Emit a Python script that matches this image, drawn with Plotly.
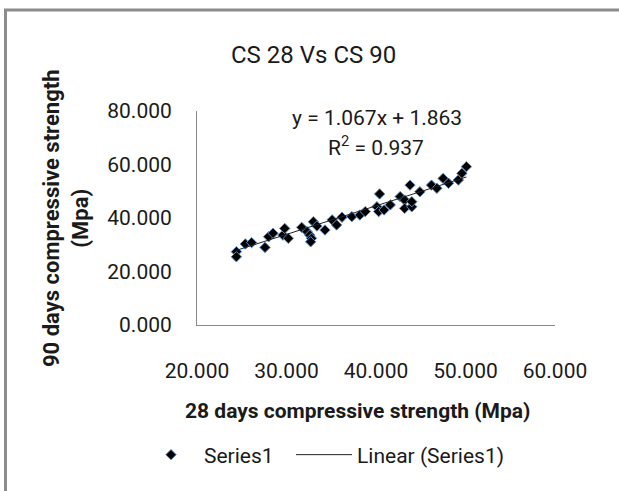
import plotly.graph_objects as go

# ---- data ----
cs28 = [24.4, 24.4, 25.4, 26.1, 27.6, 28.0, 28.5, 29.6, 29.8, 30.2,
        31.7, 32.3, 32.6, 32.8, 32.7, 33.0, 33.4, 34.3, 35.1, 35.6,
        36.2, 37.3, 38.2, 38.8, 40.1, 40.4, 40.3, 40.9, 41.6, 42.7,
        43.2, 43.2, 43.8, 44.0, 44.0, 44.9, 46.2, 46.8, 47.5, 48.1,
        49.2, 49.6, 50.1]
cs90 = [27.4, 25.5, 30.3, 30.8, 29.0, 33.0, 34.3, 33.6, 36.1, 32.4,
        36.5, 34.9, 33.6, 32.4, 31.1, 38.6, 37.0, 35.5, 39.3, 37.4,
        40.3, 40.5, 41.1, 42.4, 44.2, 49.0, 42.4, 43.0, 44.9, 48.0,
        46.7, 43.6, 52.3, 44.2, 46.1, 49.8, 52.3, 51.1, 54.8, 53.0,
        54.2, 56.7, 59.2]
slope, intercept = 1.067, 1.863
r2 = 0.937
x_ticks = [20, 30, 40, 50, 60]
y_ticks = [0, 20, 40, 60, 80]

W, H = 619, 491
L, R, T, B = 197, 64, 111, 166
PW, PH = W - L - R, H - T - B


def px(x):
    return (x - L) / PW


def py(y):
    return (H - B - y) / PH


FONT = "Roboto, Arial, sans-serif"
TXT = "#1a1a1a"

xs_fit = [min(cs28), max(cs28)]
ys_fit = [slope * v + intercept for v in xs_fit]

fig = go.Figure()
fig.add_trace(go.Scatter(
    x=cs28, y=cs90, mode="markers", name="Series1", legendwidth=82,
    marker=dict(symbol="diamond", size=8, color="#000000",
                line=dict(color="#5b8fc9", width=1)),
))
fig.add_trace(go.Scatter(
    x=xs_fit, y=ys_fit, mode="lines", name="Linear (Series1)",
    line=dict(color="#222222", width=1),
))


def note(text, x, y, size, angle=0):
    return dict(text=text, xref="paper", yref="paper", x=px(x), y=py(y),
                xanchor="center", yanchor="middle", showarrow=False,
                textangle=angle, font=dict(size=size, color=TXT))


fig.update_layout(
    width=W, height=H,
    margin=dict(l=L, r=R, t=T, b=B, pad=0),
    paper_bgcolor="white", plot_bgcolor="white",
    font=dict(family=FONT, size=21, color=TXT),
    showlegend=True,
    legend=dict(orientation="h", x=px(138), y=py(455), xanchor="left",
                yanchor="middle", itemwidth=56, font=dict(size=21),
                bgcolor="rgba(0,0,0,0)", tracegroupgap=0),
    xaxis=dict(range=[20, 60], tickvals=x_ticks, tickformat=".3f",
               showgrid=False, zeroline=False, showline=True,
               linecolor="#8a8a8a", linewidth=1, ticks="",
               ticklabelstandoff=27, tickfont=dict(size=21, color=TXT),
               fixedrange=True),
    yaxis=dict(range=[0, 80], tickvals=y_ticks, tickformat=".3f",
               showgrid=False, zeroline=False, showline=True,
               linecolor="#8a8a8a", linewidth=1, ticks="",
               ticklabelstandoff=20, tickfont=dict(size=21, color=TXT),
               fixedrange=True),
    shapes=[dict(type="rect", xref="paper", yref="paper",
                 x0=px(5.5), x1=px(700), y0=py(10), y1=py(600),
                 line=dict(color="#8c8c8c", width=3),
                 fillcolor="rgba(0,0,0,0)", layer="below")],
    annotations=[
        note("CS 28 Vs CS 90", 313, 55, 24),
        note(f"y = {slope:.3f}x + {intercept:.3f}", 377, 118, 21),
        note(f"R<sup>2</sup> = {r2:.3f}", 376, 146, 21),
        note("<b>90 days compressive strength<br>(Mpa)</b>", 66, 218, 22,
             angle=-90),
        note("<b>28 days compressive strength (Mpa)</b>", 357, 411, 21),
    ],
)

fig.write_html("out.html")
